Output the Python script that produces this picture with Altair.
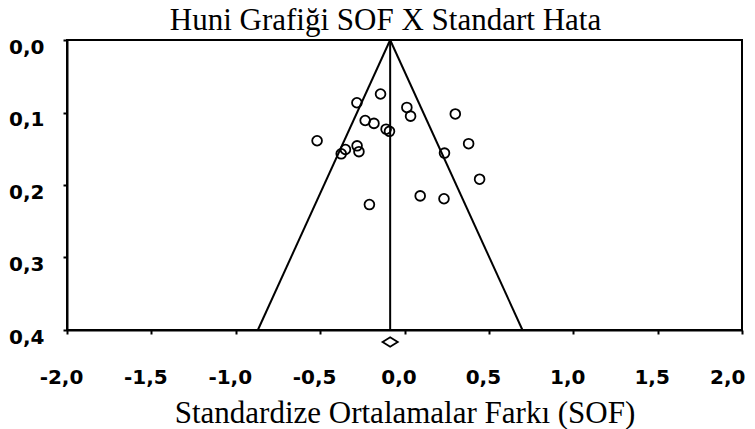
import altair as alt
import pandas as pd

# Study effect sizes (SOF) and standard errors
sof = [-0.142, -0.282, -0.233, -0.181, -0.109, -0.089, -0.518, -0.375, -0.350, -0.281,
       -0.270, 0.014, 0.036, 0.301, 0.380, 0.237, 0.445, -0.208, 0.093, 0.234]
se = [0.0745, 0.0865, 0.111, 0.115, 0.123, 0.126, 0.139, 0.157, 0.151, 0.146,
      0.154, 0.093, 0.105, 0.102, 0.143, 0.156, 0.192, 0.227, 0.215, 0.219]

pooled = -0.085
se_max = 0.4
z = 1.96
diamond_se = 0.4165

x_ticks = [-2.0, -1.5, -1.0, -0.5, 0.0, 0.5, 1.0, 1.5, 2.0]
y_ticks = [0.0, 0.1, 0.2, 0.3, 0.4]

pts = pd.DataFrame({"sof": sof, "se": se})
funnel = pd.DataFrame({
    "sof": [pooled, pooled - z * se_max, pooled, pooled + z * se_max],
    "se": [0.0, se_max, 0.0, se_max],
    "side": ["L", "L", "R", "R"],
})
center = pd.DataFrame({"sof": [pooled], "se": [0.0], "se2": [se_max]})
diamond = pd.DataFrame({"sof": [pooled], "se": [diamond_se]})

lab_fmt = "replace(replace(format(datum.value, '.1f'), '.', ','), '\u2212', '-')"

xscale = alt.Scale(domain=[-2, 2], nice=False, zero=False)
yscale = alt.Scale(domain=[0, 0.4], reverse=True, nice=False, zero=False)

xaxis = alt.Axis(
    values=x_ticks, labelExpr=lab_fmt, title="Standardize Ortalamalar Farkı (SOF)",
    grid=False, domainColor="black", domainWidth=2, tickColor="black", tickWidth=2, tickSize=4,
    labelFont="DejaVu Sans", labelFontWeight="bold", labelFontSize=20, labelColor="black",
    labelPadding=33, labelBaseline="top", labelFlush=False, labelOverlap=False,
    labelAlign=alt.expr("datum.value >= 2 ? 'right' : 'center'"),
    labelOffset=alt.expr("datum.value >= 2 ? 3 : -6"),
    titleFont="Liberation Serif", titleFontWeight="normal", titleFontSize=31, titleColor="black",
    titleBaseline="alphabetic", titleY=92,
)
yaxis = alt.Axis(
    values=y_ticks, labelExpr=lab_fmt, title=None,
    grid=False, domainColor="black", domainWidth=2, tickColor="black", tickWidth=2, tickSize=4,
    labelFont="DejaVu Sans", labelFontWeight="bold", labelFontSize=20, labelColor="black",
    labelPadding=19, labelBaseline="middle", labelOffset=7, labelFlush=False,
)

lines = alt.Chart(funnel).mark_line(color="black", strokeWidth=2).encode(
    x=alt.X("sof:Q", scale=xscale, axis=xaxis),
    y=alt.Y("se:Q", scale=yscale, axis=yaxis),
    detail="side:N",
)
vline = alt.Chart(center).mark_rule(color="black", strokeWidth=2).encode(
    x="sof:Q", y="se:Q", y2="se2:Q"
)
points = alt.Chart(pts).mark_point(
    shape="circle", filled=False, color="black", strokeWidth=1.8, size=95, opacity=1
).encode(x="sof:Q", y="se:Q")
dia = alt.Chart(diamond).mark_point(
    shape="M-1,0L0,-0.62L1,0L0,0.62Z", filled=False, color="black", strokeWidth=1.8,
    size=230, opacity=1, clip=False
).encode(x="sof:Q", y="se:Q")

chart = alt.layer(lines, vline, points, dia).properties(
    width=675,
    height=290,
    background="white",
    title=alt.TitleParams(
        "Huni Grafiği SOF X Standart Hata", font="Liberation Serif", fontSize=31,
        fontWeight="normal", color="black", anchor="middle",
        offset=2, dx=-19, dy=3,
    ),
    autosize=alt.AutoSizeParams(type="none"),
    padding={"left": 59, "top": 32, "right": 5, "bottom": 100},
).configure_view(stroke="black", strokeWidth=2)

chart.save("out.html", embed_options={"renderer": "svg", "actions": False})
